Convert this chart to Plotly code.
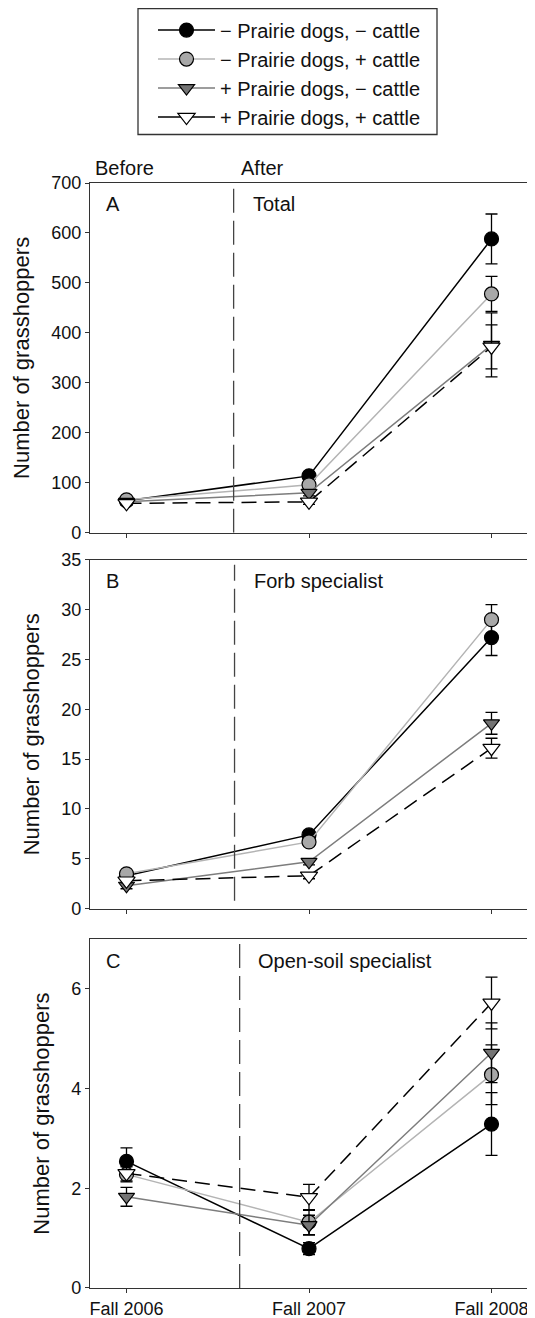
import plotly.graph_objects as go

# ---------------- data ----------------
x_labels = ["Fall 2006", "Fall 2007", "Fall 2008"]
x_pos = [0, 1, 2]
series_names = [
    "\u2212 Prairie dogs, \u2212 cattle",
    "\u2212 Prairie dogs, + cattle",
    "+ Prairie dogs, \u2212 cattle",
    "+ Prairie dogs, + cattle",
]

# Panel A: Total
total_pd0_c0 = [64, 114, 588]
total_pd0_c1 = [66, 96, 478]
total_pd1_c0 = [62, 80, 376]
total_pd1_c1 = [59, 62, 372]
total_err_pd0_c0 = [5, 8, 50]
total_err_pd0_c1 = [5, 8, 35]
total_err_pd1_c0 = [4, 6, 64]
total_err_pd1_c1 = [4, 5, 44]

# Panel B: Forb specialist
forb_pd0_c0 = [3.3, 7.4, 27.2]
forb_pd0_c1 = [3.5, 6.7, 29.0]
forb_pd1_c0 = [2.3, 4.7, 18.6]
forb_pd1_c1 = [2.8, 3.3, 16.1]
forb_err_pd0_c0 = [0.3, 0.4, 1.8]
forb_err_pd0_c1 = [0.3, 0.4, 1.5]
forb_err_pd1_c0 = [0.3, 0.3, 1.1]
forb_err_pd1_c1 = [0.2, 0.3, 1.0]

# Panel C: Open-soil specialist
soil_pd0_c0 = [2.54, 0.79, 3.29]
soil_pd0_c1 = [2.28, 1.32, 4.28]
soil_pd1_c0 = [1.83, 1.26, 4.72]
soil_pd1_c1 = [2.30, 1.82, 5.72]
soil_err_pd0_c0 = [0.27, 0.12, 0.63]
soil_err_pd0_c1 = [0.15, 0.25, 0.60]
soil_err_pd1_c0 = [0.19, 0.20, 0.60]
soil_err_pd1_c1 = [0.15, 0.26, 0.52]

panel_letters = ["A", "B", "C"]
panel_titles = ["Total", "Forb specialist", "Open-soil specialist"]
divider_x = [0.587, 0.592, 0.62]
divider_span = [(0, 700), (0.8, 34.5), (0, 7)]
y_ranges = [(0, 700), (0, 35), (0, 7)]
y_ticks = [list(range(0, 701, 100)), list(range(0, 36, 5)), [0, 2, 4, 6]]

panels = [
    ([total_pd0_c0, total_pd0_c1, total_pd1_c0, total_pd1_c1],
     [total_err_pd0_c0, total_err_pd0_c1, total_err_pd1_c0, total_err_pd1_c1]),
    ([forb_pd0_c0, forb_pd0_c1, forb_pd1_c0, forb_pd1_c1],
     [forb_err_pd0_c0, forb_err_pd0_c1, forb_err_pd1_c0, forb_err_pd1_c1]),
    ([soil_pd0_c0, soil_pd0_c1, soil_pd1_c0, soil_pd1_c1],
     [soil_err_pd0_c0, soil_err_pd0_c1, soil_err_pd1_c0, soil_err_pd1_c1]),
]

# ---------------- styles ----------------
FONT = "Liberation Sans, Arial, Helvetica, sans-serif"
TXT = "#111111"
line_colors = ["#000000", "#b4b4b4", "#7d7d7d", "#000000"]
line_dash = ["solid", "solid", "solid", "15px,8px"]
marker_symbols = ["circle", "circle", "triangle-down", "triangle-down"]
marker_fill = ["#000000", "#a8a8a8", "#747474", "#ffffff"]
marker_sizes = [14, 14, 14, 15]

W, H = 535, 1318
L, R, T, B = 82, 15, 174.5, 38
plot_w = W - L - R
plot_h = H - T - B

def px_x(px):
    return (px - L) / plot_w

def px_y(py):
    return (H - B - py) / plot_h

def dom(top_px, bottom_px):
    return [px_y(bottom_px), px_y(top_px)]

domains = [dom(174.5, 524.5), dom(551.5, 900.5), dom(931, 1280)]

fig = go.Figure()

# legend-only entries (solid lines, as in the original key)
for s in range(4):
    fig.add_trace(go.Scatter(
        x=[None], y=[None], name=series_names[s], mode="lines+markers",
        line=dict(color=line_colors[s], width=1.5),
        marker=dict(symbol=marker_symbols[s], size=marker_sizes[s],
                    color=marker_fill[s], line=dict(color="#000000", width=1.2)),
        showlegend=True,
    ))

for p, (vals, errs) in enumerate(panels):
    xa = "x" if p == 0 else f"x{p+1}"
    ya = "y" if p == 0 else f"y{p+1}"
    for s in range(4):
        fig.add_trace(go.Scatter(
            x=x_pos, y=vals[s], xaxis=xa, yaxis=ya,
            name=series_names[s], showlegend=False,
            mode="lines+markers",
            line=dict(color=line_colors[s], width=1.5, dash=line_dash[s]),
            marker=dict(symbol=marker_symbols[s], size=marker_sizes[s],
                        color=marker_fill[s],
                        line=dict(color="#000000", width=1.2)),
            error_y=dict(type="data", array=errs[s], visible=True,
                         color="#000000", thickness=1.3, width=6),
            cliponaxis=False,
        ))

axis_common = dict(
    showline=True, linecolor="#333333", linewidth=1.3, mirror=True,
    ticks="outside", ticklen=4, tickcolor="#333333", showgrid=False,
    zeroline=False, automargin=False,
    tickfont=dict(family=FONT, size=18, color=TXT),
)

layout = dict(
    width=W, height=H,
    margin=dict(l=L, r=R, t=T, b=B, pad=0, autoexpand=False),
    paper_bgcolor="white", plot_bgcolor="white",
    font=dict(family=FONT, color=TXT),
    showlegend=True,
    legend=dict(
        x=px_x(145), y=px_y(2),
        xanchor="left", yanchor="top",
        bgcolor="rgba(0,0,0,0)", borderwidth=0,
        font=dict(family=FONT, size=20, color=TXT),
        itemwidth=57, tracegroupgap=0,
    ),
)

for p in range(3):
    xk = "xaxis" if p == 0 else f"xaxis{p+1}"
    yk = "yaxis" if p == 0 else f"yaxis{p+1}"
    anchor_y = "y" if p == 0 else f"y{p+1}"
    anchor_x = "x" if p == 0 else f"x{p+1}"
    layout[xk] = dict(axis_common, domain=[0, 1], range=[-0.2, 2.2],
                      tickvals=x_pos, ticktext=x_labels,
                      showticklabels=(p == 2), anchor=anchor_y)
    layout[yk] = dict(axis_common, domain=domains[p], range=list(y_ranges[p]),
                      tickvals=y_ticks[p], anchor=anchor_x,
                      title=dict(text="Number of grasshoppers",
                                 font=dict(family=FONT, size=22, color=TXT)))

fig.update_layout(**layout)

shapes = [
    # legend frame
    dict(type="rect", xref="paper", yref="paper",
         x0=px_x(130), x1=px_x(429), y0=px_y(126), y1=px_y(0),
         line=dict(color="#333333", width=1.3), fillcolor="rgba(0,0,0,0)"),
]
annotations = []
for p in range(3):
    xr = "x" if p == 0 else f"x{p+1}"
    yr = "y" if p == 0 else f"y{p+1}"
    shapes.append(dict(type="line", xref=xr, yref=yr,
                       x0=divider_x[p], x1=divider_x[p],
                       y0=divider_span[p][0], y1=divider_span[p][1],
                       line=dict(color="#444444", width=1.3, dash="24px,8px")))
    annotations.append(dict(text=panel_letters[p], xref=f"{xr} domain", yref=f"{yr} domain",
                            x=0.032, y=0.976, xanchor="left", yanchor="top", showarrow=False,
                            font=dict(family=FONT, size=20, color=TXT)))
    annotations.append(dict(text=panel_titles[p], xref=xr, yref=f"{yr} domain",
                            x=[0.68, 0.69, 0.709][p], y=0.976, xanchor="left", yanchor="top",
                            showarrow=False,
                            font=dict(family=FONT, size=20, color=TXT)))

annotations.append(dict(text="Before", xref="paper", yref="y", x=0.006, y=700,
                        xanchor="left", yanchor="bottom", yshift=2, showarrow=False,
                        font=dict(family=FONT, size=20, color=TXT)))
annotations.append(dict(text="After", xref="x", yref="y", x=0.615, y=700,
                        xanchor="left", yanchor="bottom", yshift=2, showarrow=False,
                        font=dict(family=FONT, size=20, color=TXT)))

fig.update_layout(shapes=shapes, annotations=annotations)

fig.write_html("out.html")
